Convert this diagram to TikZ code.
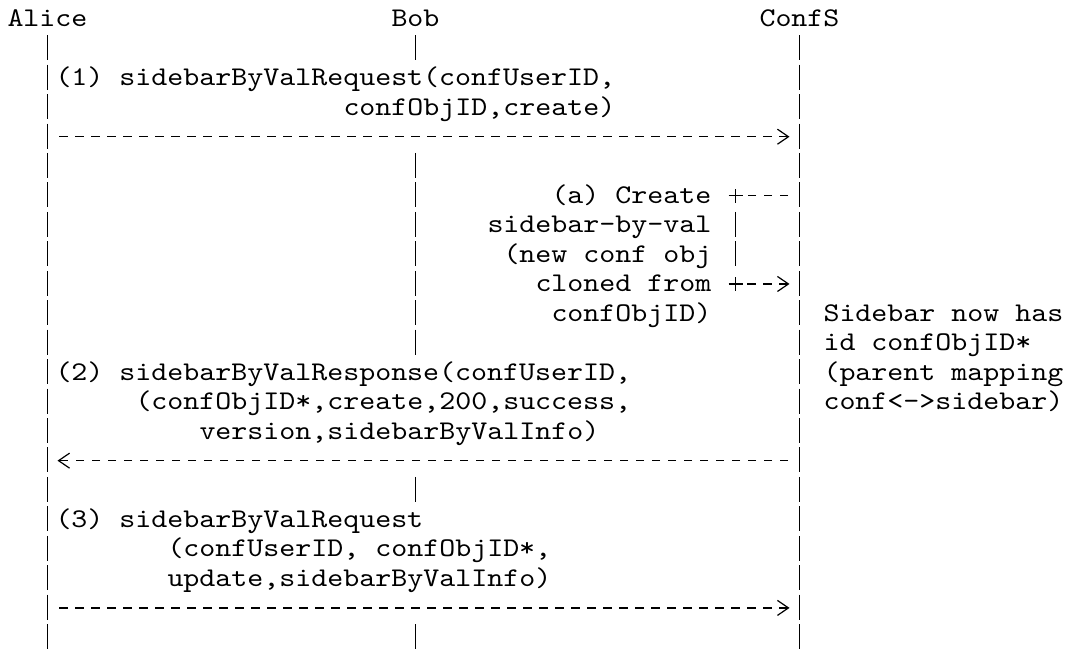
\documentclass[tikz,border=0pt]{standalone}
\usepackage{fontspec}
\usepackage{tikz}
\usetikzlibrary{arrows.meta}
\newfontfamily\asciifamily[FakeStretch=1.128]{lmmono10-regular.otf}
\newcommand{\asciifont}{\asciifamily\fontsize{27pt}{29.45pt}\selectfont}
\tikzset{%
	txt/.style      = {anchor=base west, inner sep=0pt, outer sep=0pt, font=\asciifont}, % one text line
	lifeline/.style = {line width=1.2pt, dash pattern=on 25pt off 4.45pt}, % stacked bars
	msg/.style      = {line width=1.2pt, dash pattern=on 8.5pt off 7.5pt}, % dashed message
	tip/.style      = {-{Straight Barb[length=11pt,width=15pt]}},
	box/.style      = {line width=1.2pt},
	waypoint/.style = {coordinate},
}

\begin{document}
\begin{tikzpicture}[x=16pt, y=-29.45pt]
	\useasboundingbox (0.53125,0.0934) rectangle (67.21875,22.097);
	% participants
	\node[txt] (alice) at (1,1)  {Alice};
	\node[txt] (bob)   at (25,1) {Bob};
	\node[txt] (confs) at (48,1) {ConfS};
	\foreach \r in {1,...,22} {
		\coordinate (a\r) at (3.5,\r);
		\coordinate (b\r) at (26.5,\r);
		\coordinate (c\r) at (50.5,\r);
	}

	% lifelines
	\draw[lifeline] ([yshift=21pt]a2) -- ([yshift=-4pt]a22);
	\draw[lifeline] ([yshift=21pt]c2) -- ([yshift=-4pt]c22);
	\foreach \f/\t in {2/2,6/12,17/17,22/22}
		\draw[lifeline] ([yshift=21pt]b\f) -- ([yshift=-4pt]b\t);

	% (1) request
	\node[txt] (req1)  at (4,3)  {(1) sidebarByValRequest(confUserID,};
	\node[txt] (req1b) at (22,4) {confObjID,create)};
	\draw[msg,tip] ([xshift=11.5pt,yshift=7.8pt]a5) -- ([xshift=-10pt,yshift=7.8pt]c5);

	% (a) self action on ConfS
	\node[txt] (act1) at (35,7)  {(a) Create};
	\node[txt] (act2) at (31,8)  {sidebar-by-val};
	\node[txt] (act3) at (32,9)  {(new conf obj};
	\node[txt] (act4) at (34,10) {cloned from};
	\node[txt] (act5) at (35,11) {confObjID)};
	\node[waypoint] (p7)  at ([xshift=-64pt,yshift=7.8pt]c7) {};
	\node[waypoint] (p10) at ([xshift=-64pt,yshift=7.8pt]c10) {};
	\draw[msg] ([xshift=-11.5pt,yshift=7.8pt]c7) -- ([xshift=11pt]p7);
	\draw[box] (p7) +(-7pt,0) -- +(7pt,0) (p7) +(0,-7pt) -- +(0,7pt);
	\draw[lifeline] ([xshift=-64pt,yshift=21pt]c8) -- ([xshift=-64pt,yshift=-4pt]c9);
	\draw[box] (p10) +(-7pt,0) -- +(7pt,0) (p10) +(0,-7pt) -- +(0,7pt);
	\draw[msg,tip] ([xshift=11.5pt]p10) -- ([xshift=-10pt,yshift=7.8pt]c10);

	% note beside ConfS
	\node[txt] (note1) at (52,11) {Sidebar now has};
	\node[txt] (note2) at (52,12) {id confObjID*};
	\node[txt] (note3) at (52,13) {(parent mapping};
	\node[txt] (note4) at (52,14) {conf<->sidebar)};

	% (2) response
	\node[txt] (rsp2)  at (4,13) {(2) sidebarByValResponse(confUserID,};
	\node[txt] (rsp2b) at (9,14) {(confObjID*,create,200,success,};
	\node[txt] (rsp2c) at (13,15) {version,sidebarByValInfo)};
	\draw[msg,tip] ([xshift=-11.5pt,yshift=7.8pt]c16) -- ([xshift=10pt,yshift=7.8pt]a16);

	% (3) request
	\node[txt] (req3)  at (4,18)  {(3) sidebarByValRequest};
	\node[txt] (req3b) at (11,19) {(confUserID, confObjID*,};
	\node[txt] (req3c) at (11,20) {update,sidebarByValInfo)};
	\draw[msg,tip] ([xshift=11.5pt,yshift=7.8pt]a21) -- ([xshift=-10pt,yshift=7.8pt]c21);
\end{tikzpicture}
\end{document}
